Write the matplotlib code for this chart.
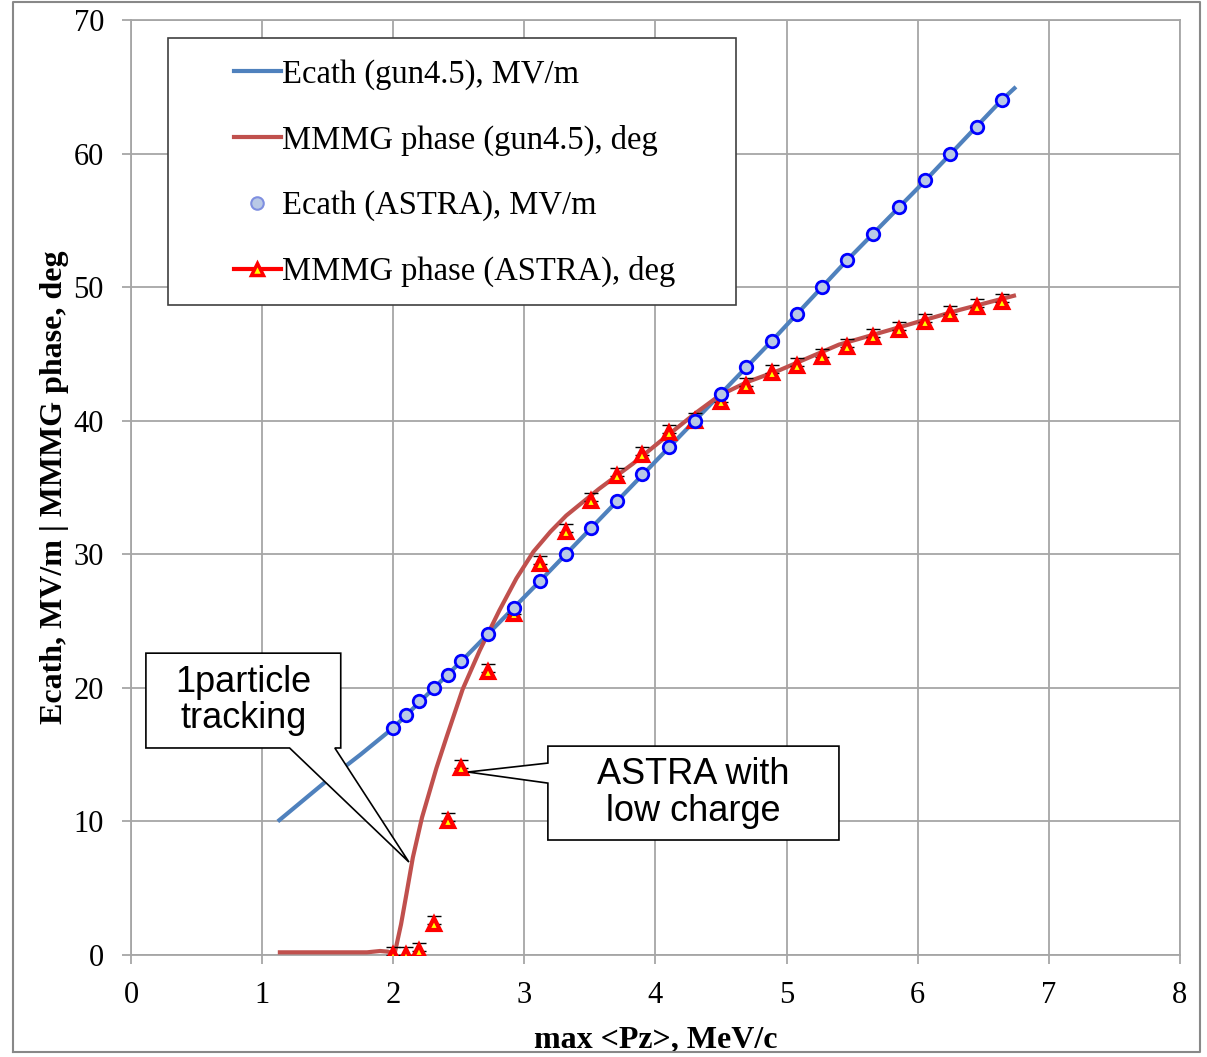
import numpy as np
import matplotlib.pyplot as plt
from matplotlib.lines import Line2D
from matplotlib.patches import Polygon, Rectangle

# Ecath, gun4.5 tracking (line)
pz_ecath_line = [1.12, 1.5, 1.75, 2.0, 2.52, 3.12, 3.71, 4.30, 4.89, 5.46, 6.06, 6.64, 6.75]
ecath_line = [10.0, 13.1, 15.0, 17.0, 22.0, 28.0, 34.0, 40.0, 46.0, 52.0, 58.0, 64.0, 65.0]

# MMMG phase, gun4.5 tracking (line)
pz_phase_line = [1.12, 1.5, 1.8, 1.9, 1.96, 2.01, 2.06, 2.10, 2.15, 2.22, 2.33, 2.41, 2.53,
                 2.66, 2.81, 2.94, 3.07, 3.2, 3.32, 3.57, 3.83, 4.08, 4.31, 4.49, 4.7,
                 4.95, 5.40, 5.86, 6.32, 6.75]
phase_line = [0.2, 0.2, 0.2, 0.3, 0.25, 0.05, 2.3, 4.5, 7.3, 10.3, 14.0, 16.4, 19.9,
              22.8, 25.8, 28.2, 30.2, 31.7, 32.9, 34.9, 36.8, 38.8, 40.6, 41.9, 42.9,
              43.8, 45.7, 47.0, 48.3, 49.4]

# ASTRA points
pz_astra = [2.0, 2.1, 2.2, 2.31, 2.42, 2.52, 2.72, 2.92, 3.12, 3.32, 3.51, 3.71, 3.90, 4.10,
            4.30, 4.50, 4.69, 4.89, 5.08, 5.27, 5.46, 5.66, 5.86, 6.06, 6.25, 6.45, 6.64]
ecath_astra = [17, 18, 19, 20, 21, 22, 24, 26, 28, 30, 32, 34, 36, 38,
               40, 42, 44, 46, 48, 50, 52, 54, 56, 58, 60, 62, 64]
phase_astra = [0.0, 0.0, 0.3, 2.3, 10.0, 14.0, 21.2, 25.5, 29.3, 31.7, 34.0, 35.9, 37.4, 39.1,
               40.0, 41.4, 42.6, 43.6, 44.1, 44.8, 45.5, 46.3, 46.8, 47.4, 48.0, 48.5, 48.9]
phase_err = 0.6

blue = '#4F81BD'
red = '#C0504D'
serif = 'Liberation Serif'

fig = plt.figure(figsize=(12.07, 10.57), dpi=100)
ax = fig.add_axes([0.1085, 0.0965, 0.869, 0.8845])

ax.plot(pz_ecath_line, ecath_line, color=blue, lw=3, zorder=3, solid_capstyle='butt')
ax.plot(pz_phase_line, phase_line, color=red, lw=3, zorder=4, solid_capstyle='butt')
ax.errorbar(pz_astra, phase_astra, yerr=[np.zeros(len(phase_astra)), np.full(len(phase_astra), phase_err)],
            fmt='none', ecolor='black', elinewidth=1, capsize=5, capthick=1, zorder=5)
ax.plot(pz_astra, phase_astra, ls='none', marker='^', ms=8.5, mfc='#FFFF00', mec='#FF0000',
        mew=3, zorder=6)
ax.plot(pz_astra, ecath_astra, ls='none', marker='o', ms=9, mfc='#B9C9E6', mec='#0000FF',
        mew=2, zorder=7)

ax.set_xlim(0, 8)
ax.set_ylim(0, 70)
ax.set_xticks(range(0, 9))
ax.set_yticks(range(0, 71, 10))
ax.grid(True, color='#A6A6A6', lw=1.3)
ax.set_axisbelow(True)
for s in ax.spines.values():
    s.set_color('#A6A6A6')
    s.set_linewidth(1.3)
ax.tick_params(axis='both', direction='out', length=6.5, width=1.3, color='#A6A6A6',
               labelsize=22)
ax.tick_params(axis='y', pad=13)
ax.tick_params(axis='x', pad=12)
for lab in ax.get_xticklabels() + ax.get_yticklabels():
    lab.set_fontfamily(serif)

ax.set_xlabel('max <Pz>, MeV/c', fontfamily=serif, fontsize=23, fontweight='bold', labelpad=11)
ax.set_ylabel('Ecath, MV/m | MMMG phase, deg', fontfamily=serif, fontsize=23,
              fontweight='bold', labelpad=3)

# legend
handles = [
    Line2D([], [], color=blue, lw=3),
    Line2D([], [], color=red, lw=3),
    Line2D([], [], ls='none', marker='o', ms=9, mfc='#B9C9E6', mec='#7F8FE0', mew=1.5),
    Line2D([], [], color='#FF0000', lw=3, marker='^', ms=8, mfc='#FFFF00', mec='#FF0000', mew=2.5),
]
labels = ['Ecath (gun4.5), MV/m', 'MMMG phase (gun4.5), deg',
          'Ecath (ASTRA), MV/m', 'MMMG phase (ASTRA), deg']
ax.add_patch(Rectangle((0.035, 0.695), 0.542, 0.286, transform=ax.transAxes,
                       facecolor='white', edgecolor='#404040', lw=1.2, zorder=8))
leg = ax.legend(handles, labels, loc='upper left', bbox_to_anchor=(0.098, 0.958),
                borderaxespad=0, borderpad=0, frameon=False, handlelength=1.44,
                handletextpad=0.05, labelspacing=1.06,
                prop={'family': serif, 'size': 23.5})
leg.set_zorder(9)

# callouts
def callout(box, tail, side, text):
    x0, y0, x1, y1 = box
    if side == 'bottom':
        pts = [(x0, y1), (x1, y1), (x1, y0)] + tail + [(x0, y0)]
    else:
        pts = [(x0, y1), (x1, y1), (x1, y0), (x0, y0)] + tail
    ax.add_patch(Polygon(pts, closed=True, facecolor='white', edgecolor='black',
                         lw=1.2, zorder=10))
    ax.text((x0 + x1) / 2, (y0 + y1) / 2, text, ha='center', va='center',
            fontfamily='Liberation Sans', fontsize=26, linespacing=1.05, zorder=11)

callout((0.114, 15.5, 1.60, 22.6),
        [(1.555, 15.5), (2.12, 6.96), (1.21, 15.5)], 'bottom',
        '1particle\ntracking')
callout((3.18, 8.61, 5.40, 15.64),
        [(3.18, 12.87), (2.57, 13.7), (3.18, 14.37)], 'left',
        'ASTRA with\nlow charge')

# chart area border
bl, br, bb, bt = 13 / 1207, 1200 / 1207, 5 / 1057, 1 - 2 / 1057
fig.add_artist(Line2D([bl, br, br, bl, bl], [bb, bb, bt, bt, bb], color='#888888', lw=1.5))

fig.savefig('out.png', dpi=100)
